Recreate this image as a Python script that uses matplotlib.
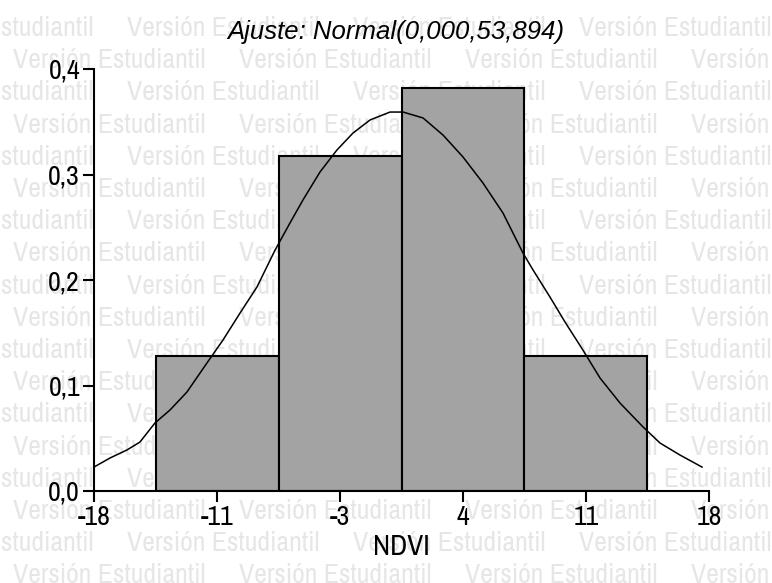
import numpy as np
import matplotlib
matplotlib.use('Agg')
import matplotlib.pyplot as plt
from matplotlib import font_manager

# look for a condensed sans face (the original uses Arial Narrow)
def find_narrow():
    cands = []
    for f in font_manager.fontManager.ttflist:
        if f.style != 'normal' or f.weight not in (400, 'normal', 'regular'):
            continue
        tag = f.name.lower()
        stretch = str(f.stretch)
        if 'narrow' in tag:
            cands.append((0, f.fname))
        elif 'condensed' in tag and 'semi' not in tag:
            cands.append((1, f.fname))
        elif stretch in ('condensed', 'semi-condensed', '87.5', '75'):
            cands.append((2, f.fname))
    cands.sort()
    return cands[0][1] if cands else None

narrow_file = find_narrow()
if narrow_file:
    font_manager.fontManager.addfont(narrow_file)
    narrow_name = font_manager.FontProperties(fname=narrow_file).get_name()
    size_scale = 1.0
else:
    narrow_name = 'Liberation Sans'
    size_scale = 0.84
plt.rcParams['font.family'] = [narrow_name, 'DejaVu Sans']


def fp(size):
    if narrow_file:
        return font_manager.FontProperties(fname=narrow_file, size=size * size_scale)
    return font_manager.FontProperties(family=narrow_name, size=size * size_scale)


# Histogram (relative frequency) of NDVI
bin_edges = [-14.36, -7.18, 0.0, 7.18, 14.36]
rel_freq = [0.128, 0.318, 0.382, 0.128]

# Fitted normal curve
curve_x = [-18.0, -17.06, -16.07, -15.31, -14.43, -13.55, -12.56, -11.39, -10.45,
           -9.45, -8.46, -7.40, -6.53, -5.77, -4.77, -3.78, -2.84, -1.84, -0.67,
           0.09, 1.26, 2.43, 3.60, 4.77, 5.94, 7.11, 7.70, 8.69, 9.57, 10.62,
           11.62, 12.79, 14.14, 15.13, 16.30, 17.59]
curve_y = [0.0227, 0.0313, 0.0389, 0.0464, 0.0645, 0.0768, 0.0938, 0.1213, 0.1431,
           0.1687, 0.1934, 0.2284, 0.2540, 0.2758, 0.3024, 0.3232, 0.3393, 0.3517, 0.3592,
           0.3592, 0.3536, 0.3374, 0.3166, 0.2919, 0.2635, 0.2256, 0.2095, 0.1839, 0.1602, 0.1336,
           0.1071, 0.0834, 0.0607, 0.0455, 0.0341, 0.0227]

x_ticks = [-18, -10.8, -3.6, 3.6, 10.8, 18]
x_tick_labels = ['-18', '-11', '-3', '4', '11', '18']
y_ticks = [0.0, 0.1, 0.2, 0.3, 0.4]
y_tick_labels = ['0,0', '0,1', '0,2', '0,3', '0,4']

title = 'Ajuste: Normal(0,000,53,894)'
xlabel = 'NDVI'
watermark = 'Versión Estudiantil'

W, H = 772, 583
fig = plt.figure(figsize=(W / 100, H / 100), dpi=100)

# watermark behind everything
for n in range(18):
    base = 36 + 32.2 * n
    x0 = 127 if n % 2 == 0 else 13
    for k in range(-1, 4):
        fig.text((x0 + 226 * k) / W, 1 - base / H, watermark, fontproperties=fp(20),
                 color='#e6e6e6', ha='left', va='baseline', zorder=-5)

ax = fig.add_axes([94 / W, 1 - 491 / H, 615 / W, 422 / H])
ax.set_facecolor('none')

ax.bar(bin_edges[:-1], rel_freq, width=np.diff(bin_edges), align='edge',
       color='#a3a3a3', edgecolor='black', linewidth=1.5, zorder=2)
ax.plot(curve_x, curve_y, color='black', linewidth=1.1, zorder=3)

ax.set_xlim(-18, 18)
ax.set_ylim(0, 0.4)
ax.set_xticks(x_ticks)
ax.set_xticklabels(x_tick_labels, fontproperties=fp(20))
ax.set_yticks(y_ticks)
ax.set_yticklabels(y_tick_labels, fontproperties=fp(20))
ax.tick_params(direction='out', length=8, width=1.5, pad=2)
for side in ['top', 'right']:
    ax.spines[side].set_visible(False)
for side in ['left', 'bottom']:
    ax.spines[side].set_linewidth(1.5)

fig.text(395.5 / W, 1 - 39 / H, title, ha='center', va='baseline', fontsize=18.5,
         style='italic', family='Liberation Sans')
fig.text(401.5 / W, 1 - 555 / H, xlabel, ha='center', va='baseline', fontproperties=fp(21))

fig.savefig('out.png', dpi=100)
